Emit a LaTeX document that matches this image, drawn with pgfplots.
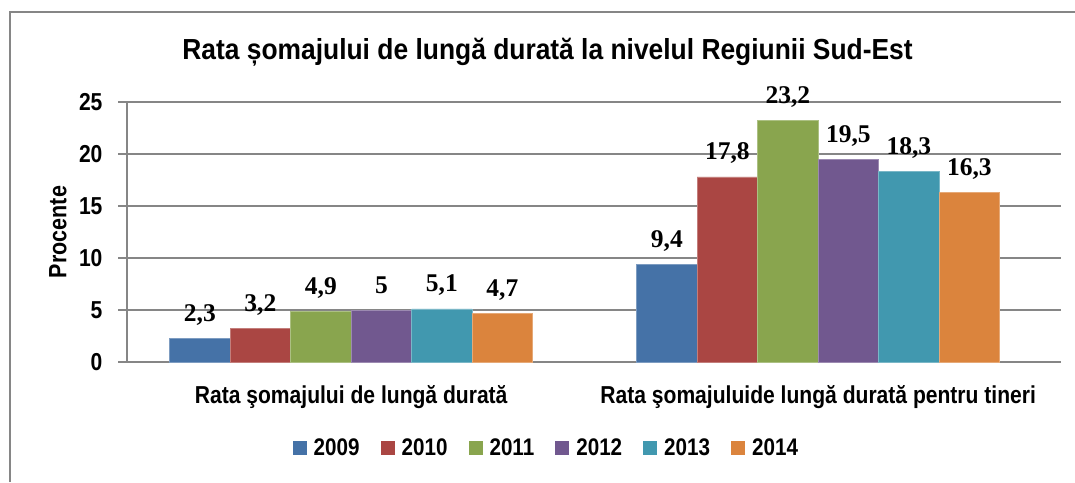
\documentclass[border=0pt]{standalone}
\usepackage{pgfplots}
\pgfplotsset{compat=1.18}
\usepackage{fontspec}
\setmainfont{Liberation Sans}[FakeStretch=0.86]
\newfontfamily\titlefont{Liberation Sans}[FakeStretch=0.91]
\newfontfamily\serifbold{Liberation Serif}
\definecolor{c09}{HTML}{4572A7}
\definecolor{c10}{HTML}{AA4643}
\definecolor{c11}{HTML}{89A54E}
\definecolor{c12}{HTML}{71588F}
\definecolor{c13}{HTML}{4198AF}
\definecolor{c14}{HTML}{DB843D}
\definecolor{gridgray}{HTML}{868686}
\begin{document}
\begin{tikzpicture}[x=1pt,y=1pt]
\useasboundingbox (0pt,0pt) rectangle (1075pt,482pt);
\draw[gridgray, line width=1.2pt] (10pt,0pt) -- (10pt,470pt) -- (1075pt,470pt);
\node[font=\fontsize{29}{34}\selectfont\titlefont\bfseries, anchor=base, inner sep=0pt] at (547.5pt,422pt) {Rata șomajului de lungă durată la nivelul Regiunii Sud-Est};
\begin{axis}[
  at={(127pt,120pt)}, anchor=south west, scale only axis,
  width=934pt, height=260pt,
  xmin=-0.48, xmax=1.52, ymin=0, ymax=25,
  clip=false,
  ybar=0pt, bar width=60.5pt,
  xtick={0,1},
  xticklabels={Rata şomajului de lungă durată, Rata şomajuluide lungă durată pentru tineri},
  ytick={0,5,10,15,20,25},
  axis lines*=left,
  axis line style={gridgray, line width=1.2pt},
  ymajorgrids,
  major grid style={gridgray, line width=1.2pt},
  tick align=outside,
  major tick length=9pt,
  ytick style={gridgray, line width=1.2pt},
  xtick style={draw=none},
  /pgf/number format/.cd, use comma, assume math mode=true, /pgfplots/.cd,
  ticklabel style={font=\fontsize{24.5}{28}\selectfont\bfseries},
  yticklabel style={xshift=-12pt},
  xticklabel style={yshift=-11pt},
  ylabel={Procente},
  ylabel style={at={(axis description cs:-0.0739,0.5)}, anchor=center, font=\fontsize{25}{30}\selectfont\bfseries},
  nodes near coords,
  every node near coord/.append style={font=\fontsize{25.5}{30}\selectfont\serifbold\bfseries, anchor=base, yshift=17pt, inner sep=0pt, text=black},
  legend columns=-1,
  legend style={at={(0.449,-0.331)}, anchor=center, draw=none, fill=none,
    font=\fontsize{24}{28}\selectfont\bfseries,
    /tikz/every even column/.append style={column sep=19pt}},
  legend image code/.code={\fill[#1, draw=none] (0pt,-7pt) rectangle (14pt,7pt); \path[draw=none, fill=none] (0pt,0pt) -- (19pt,0pt);},
]
\addplot[fill=c09, draw=c09!70!white, line width=0.6pt] coordinates {(0,2.3) (1,9.4)};
\addplot[fill=c10, draw=c10!70!white, line width=0.6pt] coordinates {(0,3.2) (1,17.8)};
\addplot[fill=c11, draw=c11!70!white, line width=0.6pt] coordinates {(0,4.9) (1,23.2)};
\addplot[fill=c12, draw=c12!70!white, line width=0.6pt] coordinates {(0,5) (1,19.5)};
\addplot[fill=c13, draw=c13!70!white, line width=0.6pt] coordinates {(0,5.1) (1,18.3)};
\addplot[fill=c14, draw=c14!70!white, line width=0.6pt] coordinates {(0,4.7) (1,16.3)};
\legend{2009,2010,2011,2012,2013,2014}
\end{axis}
\end{tikzpicture}
\end{document}
